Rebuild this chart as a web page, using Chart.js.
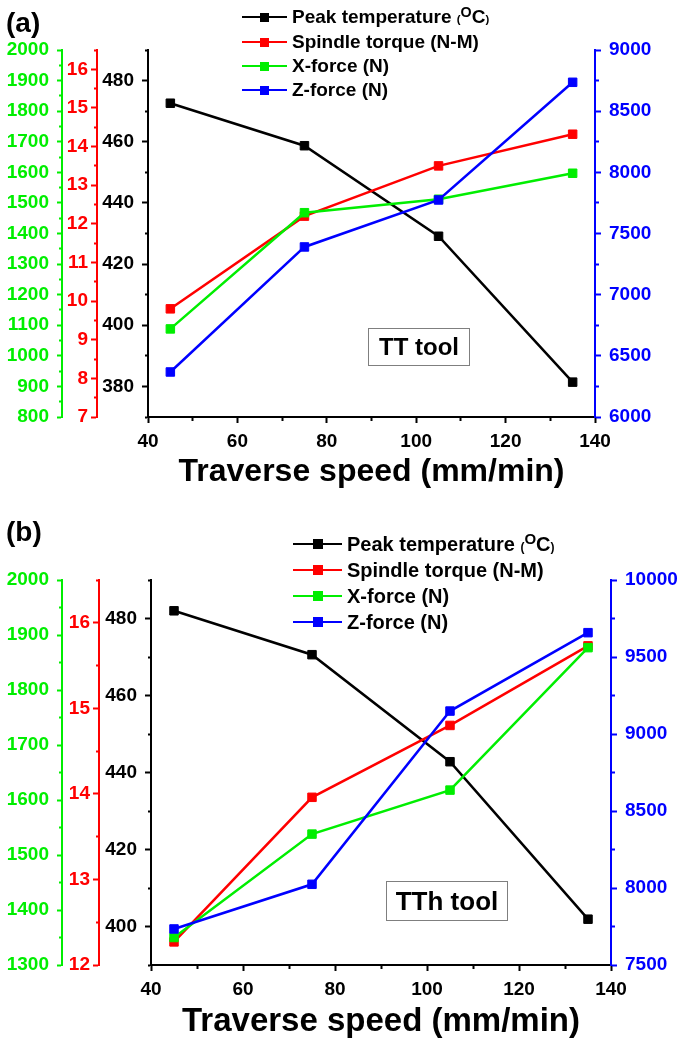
<!DOCTYPE html>
<html>
<head>
<meta charset="utf-8">
<script src="https://cdn.jsdelivr.net/npm/chart.js@4.4.0/dist/chart.umd.min.js"></script>
<style>
  body { margin: 0; background: #fff; font-family: "Liberation Sans", Arial, sans-serif; font-weight: bold; color: #000; }
  .panel { position: absolute; left: 0; width: 685px; }
  .panel canvas { position: absolute; left: 0; top: 0; }
  .tag { position: absolute; left: 6px; font-size: 28px; line-height: 28px; }
  .row { position: absolute; white-space: nowrap; }
  .key { position: absolute; left: 0; top: 50%; }
  .key i { position: absolute; left: 0; top: -1.25px; height: 2.5px; }
  .key b { position: absolute; }
  .txt { position: absolute; top: 0; }
  .small { font-size: 0.6em; }
  .sup { font-size: 0.75em; position: relative; top: -0.45em; }
  .note { position: absolute; box-sizing: border-box; border: 1px solid #7f7f7f; display: flex; align-items: center; justify-content: center; }
</style>
</head>
<body>
<div class="panel" id="panelA" style="top:0; height:500px">
  <canvas id="chartA" width="685" height="500"></canvas>
  <div class="tag" style="top:9px">(a)</div>
  <div class="note" style="left:368px; top:328px; width:102px; height:38px; font-size:24px">TT tool</div>
</div>
<div class="panel" id="panelB" style="top:500px; height:543px">
  <canvas id="chartB" width="685" height="543"></canvas>
  <div class="tag" style="top:18px">(b)</div>
  <div class="note" style="left:386px; top:381px; width:122px; height:40px; font-size:26px">TTh tool</div>
</div>
<script>
const speeds = [45, 75, 105, 135];
const seriesNames = ["Peak temperature", "Spindle torque (N-M)", "X-force (N)", "Z-force (N)"];
const seriesColors = ["#000000", "#ff0000", "#00ee00", "#0000ff"];

// (a) TT tool
const peakTempA = [472.6, 458.7, 429.1, 381.4];
const torqueA = [9.8, 12.2, 13.5, 14.32];
const xForceA = [1088, 1468, 1512, 1597];
const zForceA = [6368, 7390, 7774, 8736];

// (b) TTh tool
const peakTempB = [482, 470.6, 442.8, 401.9];
const torqueB = [12.27, 13.96, 14.8, 15.73];
const xForceB = [1350, 1538, 1618, 1877];
const zForceB = [7734, 8024, 9149, 9658];

// axis ranges: min, max, tick step, label every
const speedAxis = [40, 140, 10, 20];
const tempAxisA = [370, 490, 10, 20];
const torqueAxisA = [7, 16.5, 0.5, 1];
const xForceAxisA = [800, 2000, 50, 100];
const zForceAxisA = [6000, 9000, 250, 500];
const tempAxisB = [390, 490, 10, 20];
const torqueAxisB = [12, 16.5, 0.5, 1];
const xForceAxisB = [1300, 2000, 50, 100];
const zForceAxisB = [7500, 10000, 250, 500];

const FONT = "'Liberation Sans', Arial, sans-serif";
Chart.defaults.font.family = FONT;
const MINOR = 3;

function isMajor(v, every) {
  const r = v / every;
  return Math.abs(r - Math.round(r)) < 1e-6;
}

function axis(pos, weight, color, range, size, tl, pad, fontSize) {
  // minor ticks: dash so only the part next to the axis line shows
  const minorDash = pos === "left" ? [MINOR, tl - MINOR] : [MINOR, 100];
  const minorOffset = pos === "left" ? MINOR : 0;
  return {
    type: "linear",
    position: pos,
    weight: weight,
    min: range[0],
    max: range[1],
    border: { color: color, width: 2 },
    grid: {
      drawOnChartArea: false,
      drawTicks: true,
      tickLength: tl,
      tickColor: color,
      tickWidth: 2,
      color: color,
      tickBorderDash: (ctx) => ctx.tick && !isMajor(ctx.tick.value, range[3]) ? minorDash : [],
      tickBorderDashOffset: (ctx) => ctx.tick && !isMajor(ctx.tick.value, range[3]) ? minorOffset : 0
    },
    ticks: {
      stepSize: range[2],
      maxTicksLimit: 200,
      autoSkip: false,
      maxRotation: 0,
      padding: pad,
      color: color,
      font: { size: fontSize, weight: "bold" },
      callback: (v) => isMajor(v, range[3]) ? String(v) : ""
    },
    afterFit: (s) => {
      if (pos === "bottom") s.height = size; else s.width = size;
    }
  };
}

function build(id, values, ranges, lay) {
  const ids = ["yT", "yS", "yX", "yZ"];
  const datasets = values.map((arr, k) => ({
    label: seriesNames[k],
    data: speeds.map((x, i) => ({ x: x, y: arr[i] })),
    yAxisID: ids[k],
    borderColor: seriesColors[k],
    backgroundColor: seriesColors[k],
    pointBackgroundColor: seriesColors[k],
    pointBorderColor: seriesColors[k],
    borderWidth: 2.5,
    pointStyle: "rect",
    pointRadius: lay.point,
    pointBorderWidth: 1,
    tension: 0,
    order: 4 - k
  }));

  const x = axis("bottom", 0, "#000", speedAxis, lay.xHeight, 6, 7, lay.tickFont);
  x.title = {
    display: true,
    text: "Traverse speed (mm/min)",
    color: "#000",
    font: { size: lay.titleFont, weight: "bold" },
    padding: { top: 0, bottom: lay.titlePad }
  };

  new Chart(document.getElementById(id), {
    type: "line",
    data: { datasets },
    options: {
      responsive: false,
      devicePixelRatio: 1,
      animation: false,
      layout: { padding: { top: lay.top, left: 0, right: 0, bottom: 0 } },
      plugins: { legend: { display: false }, tooltip: { enabled: false } },
      scales: {
        x: x,
        yT: axis("left", 0, "#000", ranges[0], lay.w[0], 6, 8, lay.tickFont),
        yS: axis("left", 1, seriesColors[1], ranges[1], lay.w[1], 6, 3, lay.tickFont),
        yX: axis("left", 2, seriesColors[2], ranges[2], lay.w[2], 5, 8, lay.tickFont),
        yZ: axis("right", 0, seriesColors[3], ranges[3], lay.w[3], 6, 8, lay.tickFont)
      }
    }
  });
}

function legend(panelId, lay) {
  const panel = document.getElementById(panelId);
  seriesNames.forEach((name, k) => {
    const row = document.createElement("div");
    row.className = "row";
    row.style.left = lay.left + "px";
    row.style.top = (lay.rows[k] - lay.lh / 2) + "px";
    row.style.height = lay.lh + "px";
    row.style.lineHeight = lay.lh + "px";
    row.style.fontSize = lay.font + "px";
    const sq = lay.square;
    const label = k === 0
      ? name + ' <span class="small">(</span><span class="sup">O</span>C<span class="small">)</span>'
      : name;
    row.innerHTML =
      '<span class="key"><i style="width:' + lay.line + 'px;background:' + seriesColors[k] + '"></i>' +
      '<b style="left:' + (lay.line / 2 - sq / 2) + 'px;top:' + (-sq / 2) + 'px;width:' + sq + 'px;height:' + sq + 'px;background:' + seriesColors[k] + '"></b></span>' +
      '<span class="txt" style="left:' + (lay.line + 5) + 'px">' + label + '</span>';
    panel.appendChild(row);
  });
}

build("chartA", [peakTempA, torqueA, xForceA, zForceA],
  [tempAxisA, torqueAxisA, xForceAxisA, zForceAxisA],
  { top: 50, xHeight: 83, w: [51, 35, 62, 90], tickFont: 19, titleFont: 32, titlePad: 9, point: 6 });

build("chartB", [peakTempB, torqueB, xForceB, zForceB],
  [tempAxisB, torqueAxisB, xForceAxisB, zForceAxisB],
  { top: 80, xHeight: 78, w: [52, 37, 62, 74], tickFont: 19, titleFont: 33, titlePad: 1, point: 6 });

legend("panelA", { left: 242, rows: [17, 42, 66, 90], lh: 24, font: 19, line: 45, square: 9 });
legend("panelB", { left: 293, rows: [44, 70, 96, 122], lh: 26, font: 20, line: 49, square: 10 });
</script>
</body>
</html>
